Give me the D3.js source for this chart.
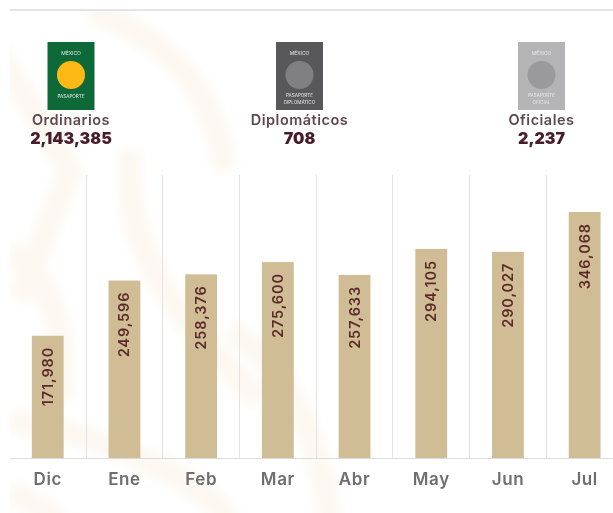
<!DOCTYPE html>
<html>
<head>
<meta charset="utf-8">
<script src="https://cdnjs.cloudflare.com/ajax/libs/d3/7.8.5/d3.min.js"></script>
<style>
    html, body { margin: 0; padding: 0; background: #fff; }
    text { font-family: Inter, "Open Sans", sans-serif; }
</style>
</head>
<body>
<div id="chart"></div>
<script>
// passports issued
const months = ["Dic", "Ene", "Feb", "Mar", "Abr", "May", "Jun", "Jul"];
const issued = [171980, 249596, 258376, 275600, 257633, 294105, 290027, 346068];

// passport types on top
const passportTypes = ["Ordinarios", "Diplomáticos", "Oficiales"];
const passportTotals = [2143385, 708, 2237];
const passportCaptions = [["PASAPORTE"], ["PASAPORTE", "DIPLOMÁTICO"], ["PASAPORTE", "OFICIAL"]];

const width = 613, height = 513;
const baseline = 458;
const fmt = d3.format(",");

const svg = d3.select("#chart").append("svg")
    .attr("width", width)
    .attr("height", height)
    .style("display", "block");

const defs = svg.append("defs");
defs.append("clipPath").attr("id", "clip")
    .append("rect").attr("x", 10).attr("y", 12).attr("width", width - 10).attr("height", height - 12);
defs.append("filter").attr("id", "soft")
    .append("feGaussianBlur").attr("stdDeviation", 0.5);
defs.append("filter").attr("id", "softer")
    .append("feGaussianBlur").attr("stdDeviation", 5);

// faint watermark behind the chart
const mark = svg.append("g").attr("clip-path", "url(#clip)")
    .append("g")
    .attr("filter", "url(#softer)")
    .attr("fill", "none")
    .attr("stroke", "#fdf8f1")
    .attr("stroke-width", 24);
[
    "M-10,40 L70,170 L20,300",
    "M90,10 C170,40 215,90 225,170",
    "M10,250 C50,280 70,330 60,400",
    "M10,420 C110,440 190,470 230,520",
    "M130,150 C120,260 190,330 260,400",
    "M230,330 C290,370 320,440 330,520",
    "M10,490 L60,520"
].forEach(d => mark.append("path").attr("d", d));

const chart = svg.append("g").attr("filter", "url(#soft)");

// top rule
chart.append("line")
    .attr("x1", 10).attr("x2", width)
    .attr("y1", 10).attr("y2", 10)
    .attr("stroke", "#e4e4e4")
    .attr("stroke-width", 2);

// scales
const x = d3.scaleBand().domain(months).range([9.4, 623]).paddingInner(0.585).paddingOuter(0.2925);
const y = d3.scaleLinear().domain([0, 346068]).range([baseline, 212]);
const topX = d3.scaleOrdinal().domain(passportTypes).range([71, 299.5, 541.5]);

// separators between months
chart.selectAll(".sep")
    .data(months.slice(1))
    .enter().append("line")
    .attr("class", "sep")
    .attr("x1", d => Math.floor(x(d) - x.step() * 0.2925) + 0.5)
    .attr("x2", d => Math.floor(x(d) - x.step() * 0.2925) + 0.5)
    .attr("y1", 175)
    .attr("y2", baseline)
    .attr("stroke", "#e2e2e4")
    .attr("stroke-width", 1);

// bars
chart.selectAll(".bar")
    .data(issued)
    .enter().append("rect")
    .attr("class", "bar")
    .attr("x", (d, i) => x(months[i]))
    .attr("y", d => y(d))
    .attr("width", x.bandwidth())
    .attr("height", d => y(0) - y(d))
    .attr("fill", "#d1bd95");

// value labels, rotated
chart.selectAll(".value")
    .data(issued)
    .enter().append("text")
    .attr("class", "value")
    .attr("transform", (d, i) => `translate(${x(months[i]) + x.bandwidth() / 2 + 5},${y(d) + 11}) rotate(-90)`)
    .attr("text-anchor", "end")
    .attr("fill", "#5a2c2a")
    .style("font-size", "14.5px")
    .style("letter-spacing", "0.9px")
    .style("font-weight", 600)
    .text(d => fmt(d));

// axis line + month names
const xAxis = chart.append("g")
    .attr("transform", "translate(0," + baseline + ")")
    .call(d3.axisBottom(x).tickSize(0).tickPadding(15));
xAxis.select(".domain").attr("stroke", "#dcdcde").attr("d", "M10,0.5H" + width);
xAxis.selectAll("text")
    .attr("fill", "#6e6e70")
    .style("font-size", "17px")
    .style("letter-spacing", "0.6px")
    .style("font-weight", 600)
    .style("font-family", "Inter, sans-serif");

// passport icons
const iconColors = ["#0f6b38", "#58585a", "#b4b4b6"];
const discColors = ["#fdb913", "#808082", "#9a9a9c"];
const icons = chart.selectAll(".passport")
    .data(passportTypes)
    .enter().append("g")
    .attr("class", "passport")
    .attr("transform", d => `translate(${topX(d)},0)`);

icons.append("rect")
    .attr("x", -23.5).attr("y", 42)
    .attr("width", 47).attr("height", 68)
    .attr("fill", (d, i) => iconColors[i]);
icons.append("circle")
    .attr("cy", 75).attr("r", 14)
    .attr("fill", (d, i) => discColors[i]);
icons.append("text")
    .attr("y", 54.5)
    .attr("text-anchor", "middle")
    .attr("fill", "#e8e8e8")
    .style("font-size", "5px")
    .text("MÉXICO");
icons.each(function (d, i) {
    d3.select(this).selectAll(".cap")
        .data(passportCaptions[i])
        .enter().append("text")
        .attr("class", "cap")
        .attr("y", (c, k) => 98 + k * 6.5 - (passportCaptions[i].length > 1 ? 1 : 0))
        .attr("text-anchor", "middle")
        .attr("fill", "#e8e8e8")
        .style("font-size", "4.6px")
        .text(c => c);
});

icons.append("text")
    .attr("y", 124.5)
    .attr("text-anchor", "middle")
    .attr("fill", "#5f4a50")
    .style("font-size", "14.5px")
    .style("letter-spacing", "0.5px")
    .style("font-weight", 600)
    .text(d => d);
icons.append("text")
    .attr("y", 144)
    .attr("text-anchor", "middle")
    .attr("fill", "#4a1c2c")
    .style("font-size", "16px")
    .style("font-weight", 900)
    .text((d, i) => fmt(passportTotals[i]));
</script>
</body>
</html>
